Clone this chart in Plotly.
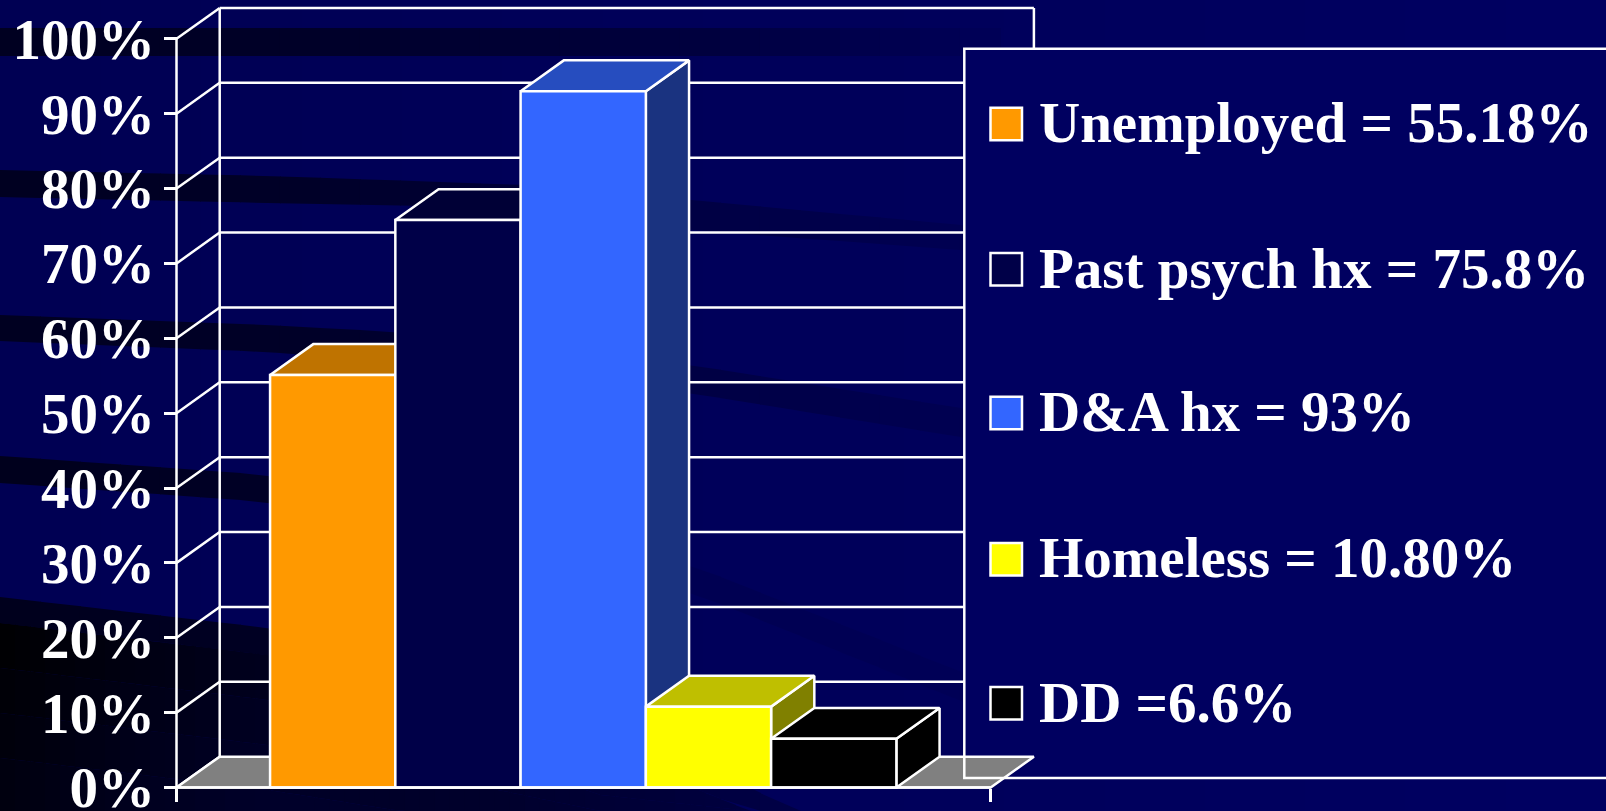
import numpy as np
import plotly.graph_objects as go

# ---- data ----
categories = ["Unemployed", "Past psych hx", "D&A hx", "Homeless", "DD"]
values = [55.1, 75.8, 93.0, 10.8, 6.5]
legend_labels = ["Unemployed = 55.18%", "Past psych hx = 75.8%", "D&A hx = 93%",
                 "Homeless = 10.80%", "DD =6.6%"]
y_ticks = [0, 10, 20, 30, 40, 50, 60, 70, 80, 90, 100]
y_ticktext = ["0%", "10%", "20%", "30%", "40%", "50%", "60%", "70%", "80%", "90%", "100%"]

# ---- styles ----
front_colors = ["#FF9900", "#000048", "#3366FF", "#FFFF00", "#000000"]
top_colors = ["#BF7300", "#000036", "#264DBF", "#BFBF00", "#000000"]
side_colors = ["#804D00", "#000024", "#1A3380", "#808000", "#000000"]
FONT = "Liberation Serif"
LW = 2.5
W, H = 1606, 860   # figure runs past the 811 px window so the "0%" label is not dropped
AX_L, AX_B, PX_PER_PCT, PX_PER_SLOT = 176.5, 787.5, 7.487, 125.26
SLOTS, GAP = 6.5, 0.747           # axis length and gap before first bar (bar-width units)
DX, DY = 0.345, 4.12              # 3-D depth offset in axis units


def fx(p):
    return p / W


def fy(p):
    return 1 - p / H


def hexc(b):
    return "#0000%02X" % int(round(b))


shapes = []


def rect(x0, y0, x1, y1, color):
    shapes.append(dict(type="rect", xref="paper", yref="paper", layer="below",
                       x0=fx(x0), x1=fx(x1), y0=fy(y0), y1=fy(y1),
                       fillcolor=color, line=dict(width=0)))


# background: soft horizontal gradient
n = 16
for i in range(n):
    rect(W * i / n, 0, W * (i + 1) / n + 1, H, hexc(83 + 14 * i / (n - 1)))


def band(xs, tops, bots, xb, bb, step=40):
    """Dark swoosh of the slide background, drawn as slim polygons."""
    grid = np.arange(xs[0], xs[-1] + step, step)
    for a, b in zip(grid[:-1], grid[1:]):
        t = np.interp([a, b], xs, tops)
        o = np.interp([a, b], xs, bots)
        col = hexc(np.interp((a + b) / 2, xb, bb))
        path = "M%f,%f L%f,%f L%f,%f L%f,%f Z" % (
            fx(a), fy(t[0]), fx(b + 1), fy(t[1]), fx(b + 1), fy(o[1]), fx(a), fy(o[0]))
        shapes.append(dict(type="path", xref="paper", yref="paper", layer="below",
                           path=path, fillcolor=col, line=dict(width=0)))


band([0, 500, 1000], [28, 28, 28], [56, 56, 56], [0, 300, 700, 1000], [32, 40, 62, 88])
band([0, 268, 525, 690, 960, 1050], [170, 176, 185, 200, 225, 236], [197, 203, 208, 230, 250, 258],
     [0, 300, 700, 1000, 1050], [32, 40, 68, 84, 92])
band([0, 268, 394, 690, 960, 1090], [315, 325, 332, 365, 408, 440], [341, 352, 362, 393, 437, 470],
     [0, 300, 700, 1000, 1090], [32, 40, 68, 84, 92])
band([0, 268, 690, 880, 963, 1120], [456, 475, 565, 640, 673, 733], [483, 502, 592, 668, 702, 770],
     [0, 300, 600, 960, 1120], [28, 40, 80, 86, 92])
band([0, 268, 400, 600, 750, 790], [597, 628, 650, 720, 787, 811], [623, 655, 680, 750, 811, 811],
     [0, 300, 500, 800], [28, 36, 48, 70])
# lower dark region: darkest just under its upper edge, lifting toward the slide bottom
low_x = [0, 268, 400, 600, 750]
low_top = [623, 655, 680, 750, 811]
for k, (o0, o1) in enumerate([(0, 45), (45, 90), (90, 135), (135, 240)]):
    t = [min(v + o0, 811) for v in low_top]
    b = [min(v + o1, 811) for v in low_top]
    band(low_x, t, b, [0, 120, 268, 500, 750], [4 * k + 2, 4 * k + 16, 4 * k + 30, 44, 64], step=15)

# back wall + left wall grid (data coordinates, behind the legend panel)
X_R = SLOTS + DX
for v in y_ticks:
    if v > 0:
        shapes.append(dict(type="line", xref="x", yref="y", layer="below",
                           x0=DX, x1=X_R, y0=v + DY, y1=v + DY,
                           line=dict(color="white", width=LW)))
    shapes.append(dict(type="line", xref="x", yref="y", layer="below",
                       x0=0, x1=DX, y0=v, y1=v + DY, line=dict(color="white", width=LW)))
for xv in (DX, X_R):
    shapes.append(dict(type="line", xref="x", yref="y", layer="below",
                       x0=xv, x1=xv, y0=DY, y1=100 + DY, line=dict(color="white", width=LW)))

# legend panel fill hides the walls (same layer as the wall lines, so same axes refs)
LEG_L, LEG_T, LEG_B = 964.3, 48.7, 778


def dx_of(p):
    return (p - AX_L) / PX_PER_SLOT


def dy_of(p):
    return (AX_B - p) / PX_PER_PCT


shapes.append(dict(type="rect", xref="x", yref="y", layer="below",
                   x0=dx_of(LEG_L), x1=dx_of(W + 5), y0=dy_of(LEG_B), y1=dy_of(LEG_T),
                   fillcolor="#000060", line=dict(width=0)))

fig = go.Figure()


def poly(xs, ys, color):
    fig.add_trace(go.Scatter(x=xs, y=ys, mode="lines", fill="toself", fillcolor=color,
                             line=dict(color="white", width=LW), hoverinfo="skip",
                             showlegend=False))


# floor
poly([0, DX, X_R, SLOTS, 0], [0, DY, DY, 0, 0], "#808080")

# bars
for i, (name, v) in enumerate(zip(categories, values)):
    a, b = GAP + i, GAP + i + 1
    poly([b, b + DX, b + DX, b, b], [0, DY, v + DY, v, 0], side_colors[i])
    poly([a, a + DX, b + DX, b, a], [v, v + DY, v + DY, v, v], top_colors[i])
    poly([a, b, b, a, a], [0, 0, v, v, 0], front_colors[i])

# front axis lines
fig.add_trace(go.Scatter(x=[0, 0, SLOTS], y=[100, 0, 0], mode="lines",
                         line=dict(color="white", width=LW), hoverinfo="skip", showlegend=False))

# legend outline
shapes.append(dict(type="path", xref="paper", yref="paper", layer="above",
                   path="M%f,%f L%f,%f L%f,%f L%f,%f" % (
                       fx(W + 5), fy(LEG_T), fx(LEG_L), fy(LEG_T), fx(LEG_L), fy(LEG_B), fx(W + 5), fy(LEG_B)),
                   line=dict(color="white", width=LW)))

# legend rows
swatch_tops = [107.7, 253, 396.7, 543, 687]
text_mid = [123, 268, 411, 557, 702]
annotations = []
for i, lab in enumerate(legend_labels):
    shapes.append(dict(type="rect", xref="paper", yref="paper", layer="above",
                       x0=fx(990.5), x1=fx(1022), y0=fy(swatch_tops[i]), y1=fy(swatch_tops[i] + 32.5),
                       fillcolor=front_colors[i], line=dict(color="white", width=LW)))
    annotations.append(dict(xref="paper", yref="paper", x=fx(1037), y=fy(text_mid[i]),
                            xanchor="left", yanchor="middle", text=lab, showarrow=False,
                            font=dict(family=FONT, size=57, color="white", weight="bold")))

fig.update_layout(
    width=W, height=H, margin=dict(l=0, r=0, t=0, b=0), autosize=False,
    paper_bgcolor="#000058", plot_bgcolor="rgba(0,0,0,0)", showlegend=False,
    shapes=shapes, annotations=annotations,
    xaxis=dict(domain=[0, 1], range=[-AX_L / PX_PER_SLOT, (W - AX_L) / PX_PER_SLOT],
               anchor="free", position=(H - AX_B) / H, tickvals=[0, SLOTS], ticktext=["", ""],
               ticks="outside", ticklen=13, tickwidth=LW, tickcolor="white",
               showgrid=False, zeroline=False, showline=False, fixedrange=True),
    yaxis=dict(domain=[0, 1], range=[-(H - AX_B) / PX_PER_PCT, AX_B / PX_PER_PCT],
               anchor="free", position=AX_L / W, tickvals=y_ticks, ticktext=y_ticktext,
               ticks="outside", ticklen=13, tickwidth=LW, tickcolor="white", ticklabelstandoff=-3,
               tickfont=dict(family=FONT, size=57, color="white", weight="bold"),
               showgrid=False, zeroline=False, showline=False, fixedrange=True),
)

fig.write_html("out.html", config=dict(displayModeBar=False),
               post_script="document.body.style.margin='0';document.body.style.overflow='hidden';"
                           "document.documentElement.style.overflow='hidden';")
